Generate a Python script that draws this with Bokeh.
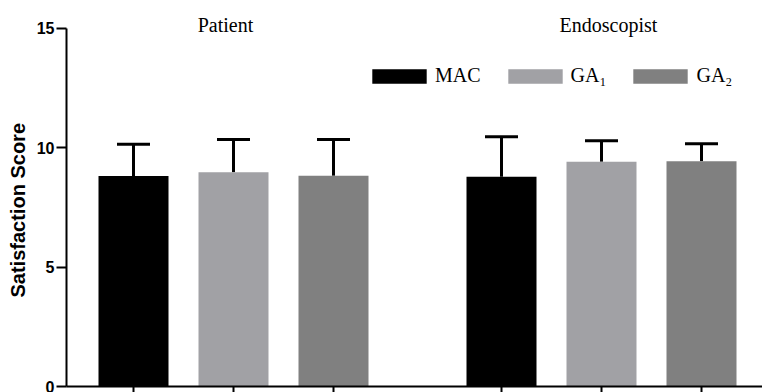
from bokeh.plotting import figure
from bokeh.models import (ColumnDataSource, Range1d, FixedTicker, Legend, LegendItem, Label, Title)
from bokeh.embed import file_html
from bokeh.resources import INLINE

# ---- data ----
groups = ["Patient", "Endoscopist"]
treatments = ["MAC", "GA\u2081", "GA\u2082"]
colors = ["#000000", "#a1a1a5", "#808080"]
patient_mean = [8.82, 8.97, 8.83]
patient_sd = [1.33, 1.38, 1.52]
endo_mean = [8.79, 9.42, 9.44]
endo_sd = [1.67, 0.87, 0.73]
y_ticks = [0, 5, 10, 15]
y_max = 15
y_label = "Satisfaction Score"

# ---- layout helpers ----
group_start = [1.0, 4.68]
bar_w = 0.7
cap_w = 0.33

p = figure(width=762, height=392, output_backend="svg", toolbar_location=None,
           x_range=Range1d(0.33, 7.29), y_range=Range1d(0, 16.17),
           min_border_left=66, min_border_right=0, min_border_top=0, min_border_bottom=5)
p.outline_line_color = None
p.grid.visible = False
p.background_fill_color = "white"

means_all = [patient_mean, endo_mean]
sds_all = [patient_sd, endo_sd]
renderers = []
tick_pos = []
for ti, t in enumerate(treatments):
    xs = [group_start[g] + ti for g in range(len(groups))]
    tick_pos += xs
    tops = [means_all[g][ti] for g in range(len(groups))]
    sds = [sds_all[g][ti] for g in range(len(groups))]
    src = ColumnDataSource(dict(x=xs, top=tops, hi=[m + s for m, s in zip(tops, sds)],
                                x0=[x - cap_w / 2 for x in xs], x1=[x + cap_w / 2 for x in xs]))
    p.segment(x0="x", y0="top", x1="x", y1="hi", source=src, line_color="black", line_width=3)
    p.segment(x0="x0", y0="hi", x1="x1", y1="hi", source=src, line_color="black", line_width=3)
    r = p.vbar(x="x", top="top", width=bar_w, bottom=0, source=src, fill_color=colors[ti], line_color=None)
    renderers.append(r)

# axes
p.yaxis.ticker = FixedTicker(ticks=y_ticks)
p.yaxis.bounds = (0, y_max)
p.yaxis.minor_tick_line_color = None
p.yaxis.major_tick_in = 0
p.yaxis.major_tick_out = 10
p.yaxis.major_tick_line_width = 2
p.yaxis.axis_line_width = 2
p.yaxis.major_label_standoff = 2
p.yaxis.major_label_text_font = "Liberation Sans"
p.yaxis.major_label_text_font_style = "bold"
p.yaxis.major_label_text_font_size = "16px"
p.yaxis.major_label_text_color = "black"

# y-axis title, placed as a left-side Title so it can be centred on the 0-15 span
p.add_layout(Title(text=y_label, align="left", offset=89, standoff=9,
                   text_font="Liberation Sans", text_font_style="bold",
                   text_font_size="20px", text_color="black"), "left")

p.xaxis.ticker = FixedTicker(ticks=tick_pos)
p.xaxis.minor_tick_line_color = None
p.xaxis.major_tick_in = 0
p.xaxis.major_tick_out = 6
p.xaxis.major_tick_line_width = 2
p.xaxis.axis_line_width = 2
p.xaxis.major_label_overrides = {x: "" for x in tick_pos}
p.xaxis.major_label_text_font_size = "0px"
p.xaxis.major_label_standoff = 0

# group titles
title_x = [1.92, 5.75]
for g, name in enumerate(groups):
    p.add_layout(Label(x=title_x[g], y=362, y_units="screen", text=name,
                       text_font="Liberation Serif", text_font_size="20px",
                       text_align="center", text_baseline="alphabetic", text_color="black"))

legend = Legend(items=[LegendItem(label=t, renderers=[r]) for t, r in zip(treatments, renderers)],
                orientation="horizontal", location=(299, 299),
                glyph_width=68, glyph_height=18, label_standoff=2, spacing=20,
                padding=0, margin=0, border_line_color=None, background_fill_alpha=0,
                label_text_font="Liberation Serif", label_text_font_size="20px",
                label_text_color="black")
p.add_layout(legend)

open("out.html", "w").write(file_html(p, INLINE))
